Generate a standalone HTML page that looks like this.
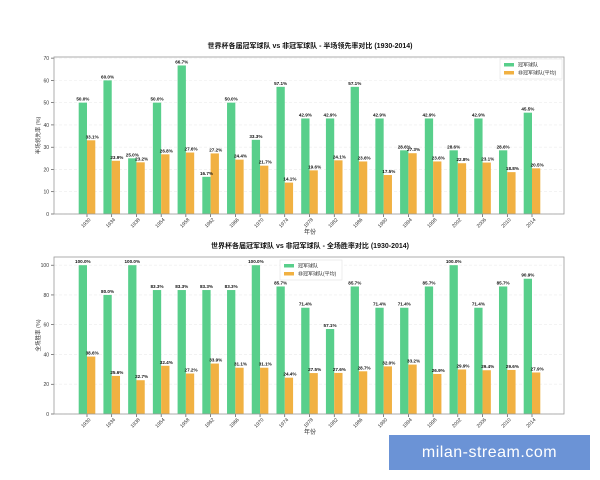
<!DOCTYPE html>
<html><head><meta charset="utf-8"><style>
html,body{margin:0;padding:0;background:#fff;}
svg{display:block;font-family:"Liberation Sans","Noto Sans CJK SC",sans-serif;}
#wm{position:absolute;left:389px;top:435px;width:201px;height:35px;background:#6b93d6;color:#fff;font:16px "Liberation Sans",sans-serif;text-align:center;line-height:35px;letter-spacing:0.5px;}
</style></head><body>
<svg id="c" width="600" height="480"></svg>
<div id="wm">milan-stream.com</div>
<script>
const years=["1930","1934","1938","1954","1958","1962","1966","1970","1974","1978","1982","1986","1990","1994","1998","2002","2006","2010","2014"];
const htChamp=[50.0,60.0,25.0,50.0,66.7,16.7,50.0,33.3,57.1,42.9,42.9,57.1,42.9,28.6,42.9,28.6,42.9,28.6,45.5];
const htOther=[33.1,23.9,23.2,26.8,27.6,27.2,24.4,21.7,14.1,19.6,24.1,23.6,17.5,27.3,23.6,22.8,23.1,18.8,20.5];
const ftChamp=[100.0,80.0,100.0,83.3,83.3,83.3,83.3,100.0,85.7,71.4,57.1,85.7,71.4,71.4,85.7,100.0,71.4,85.7,90.9];
const ftOther=[38.6,25.6,22.7,32.4,27.2,33.9,31.1,31.1,24.4,27.5,27.6,28.7,32.0,33.2,26.9,29.9,29.4,29.6,27.9];
const ticksTop=[0,10,20,30,40,50,60,70];
const ticksBot=[0,20,40,60,80,100];
const NS="http://www.w3.org/2000/svg",svg=document.getElementById('c');
function el(t,a,p){const e=document.createElementNS(NS,t);for(const k in a)e.setAttribute(k,a[k]);(p||svg).appendChild(e);return e;}
function txt(s,a,p){const e=el('text',a,p);e.textContent=s;return e;}
function chart(cfg){
 const L=54,R=564,T=cfg.top,B=cfg.bot;
 const g=el('g',{});
 const x=i=>87+i*(532-87)/18;
 const y=v=>B-(v/cfg.ymax)*(B-T);
 cfg.ticks.forEach(t=>{
  el('line',{x1:L,x2:R,y1:y(t),y2:y(t),stroke:'#ececec','stroke-width':0.6,'stroke-dasharray':'3,2'},g);
  el('line',{x1:L-3,x2:L,y1:y(t),y2:y(t),stroke:'#333','stroke-width':0.6},g);
  const tl=txt(String(t),{x:L-5,y:y(t)+2,'font-size':5,'text-anchor':'end',fill:'#333'},g);
  
 });
 years.forEach((yr,i)=>{
  const cx=x(i),w=8.3;
  const b1=el('rect',{x:cx-w,y:y(cfg.a[i]),width:w,height:B-y(cfg.a[i]),fill:'#58cf8b'},g);
  
  const b2=el('rect',{x:cx,y:y(cfg.b[i]),width:w,height:B-y(cfg.b[i]),fill:'#f1b142'},g);
  
  txt(cfg.a[i].toFixed(1)+'%',{x:cx-w/2,y:y(cfg.a[i])-2,'font-size':4.6,'font-weight':'bold','text-anchor':'middle',fill:'#111'},g);
  txt(cfg.b[i].toFixed(1)+'%',{x:cx+w/2+1,y:y(cfg.b[i])-2,'font-size':4.6,'font-weight':'bold','text-anchor':'middle',fill:'#111'},g);
  el('line',{x1:cx,x2:cx,y1:B,y2:B+3,stroke:'#333','stroke-width':0.6},g);
  const tl=txt(yr,{x:cx,y:B+10,'font-size':5,'text-anchor':'middle',fill:'#333',transform:`rotate(-45 ${cx} ${B+10})`},g);
  
 });
 el('rect',{x:L,y:T,width:R-L,height:B-T,fill:'none',stroke:'#999','stroke-width':0.8},g);
 const ti=txt(cfg.title,{x:310,y:T-9,'font-size':7,'font-weight':'bold','text-anchor':'middle',fill:'#111'},g);
 
 const xl=txt('年份',{x:310,y:B+20,'font-size':6,'text-anchor':'middle',fill:'#333'},g);
 
 const yl=txt(cfg.ylabel,{x:40,y:(T+B)/2,'font-size':5.5,'text-anchor':'middle',fill:'#333',transform:`rotate(-90 40 ${(T+B)/2})`},g);
 
 const lg=el('g',{},g);
 const lx=cfg.lx,ly=cfg.ly;
 el('rect',{x:lx,y:ly,width:62,height:20,fill:'#fff',stroke:'#e2e2e2','stroke-width':0.6},lg);
 el('rect',{x:lx+4,y:ly+4,width:10,height:3.5,fill:'#58cf8b'},lg);
 el('rect',{x:lx+4,y:ly+12,width:10,height:3.5,fill:'#f1b142'},lg);
 txt('冠军球队',{x:lx+18,y:ly+7.5,'font-size':5,fill:'#333'},lg);
 txt('非冠军球队(平均)',{x:lx+18,y:ly+15.5,'font-size':5,fill:'#333'},lg);
}
chart({name:'halftime-lead-chart',top:57,bot:214,ymax:70.5,ticks:ticksTop,a:htChamp,b:htOther,title:'世界杯各届冠军球队 vs 非冠军球队 - 半场领先率对比 (1930-2014)',ylabel:'半场领先率 (%)',lx:500,ly:59});
chart({name:'fulltime-win-chart',top:257,bot:414,ymax:105.5,ticks:ticksBot,a:ftChamp,b:ftOther,title:'世界杯各届冠军球队 vs 非冠军球队 - 全场胜率对比 (1930-2014)',ylabel:'全场胜率 (%)',lx:280,ly:260});
</script>
</body></html>
